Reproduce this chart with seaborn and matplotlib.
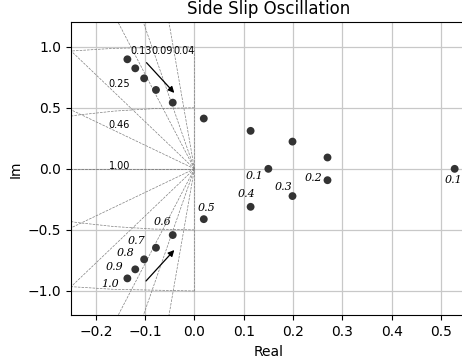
import numpy as np
import pandas as pd
import matplotlib
matplotlib.use("Agg")
import matplotlib.pyplot as plt
import seaborn as sns

# полюса замкнутой системы для коэффициентов 0.1 ... 1.0
gains = [0.1, 0.2, 0.3, 0.4, 0.5, 0.6, 0.7, 0.8, 0.9, 1.0]
branch_re = [0.150, 0.270, 0.199, 0.114, 0.019, -0.044, -0.078, -0.102, -0.120, -0.136]
branch_im = [0.000, 0.093, 0.223, 0.311, 0.412, 0.542, 0.646, 0.741, 0.823, 0.897]
extra_re = [0.528]   # второй вещественный полюс при k = 0.1
extra_im = [0.0]

# сетка коэффициентов демпфирования и собственных частот
zetas = [0.043, 0.086, 0.128, 0.251, 0.460, 1.0]
wn_list = [0.5, 1.0]

# стрелки направления роста коэффициента
arrow_start = [(-0.101, 0.886), (-0.102, -0.935)]
arrow_end = [(-0.037, 0.605), (-0.037, -0.648)]

rows = []
for k, re, im in zip(gains, branch_re, branch_im):
    rows.append((k, re, im))
    if im != 0:
        rows.append((k, re, -im))
for re, im in zip(extra_re, extra_im):
    rows.append((gains[0], re, im))
poles = pd.DataFrame(rows, columns=["k", "re", "im"])

fig = plt.figure(figsize=(4.62, 3.6), dpi=100)
ax = fig.add_axes([0.1541, 0.1239, 0.8535, 0.8142])
ax.set_xlim(-0.25, 0.55)
ax.set_ylim(-1.2, 1.2)
ax.grid(True, color="#c8c8c8", linewidth=0.9)
ax.set_axisbelow(True)

# sgrid: линии постоянного демпфирования
x_lab = -0.174
y_top = 1.0
y_lab = y_top * 0.94
for z in zetas:
    slope = -np.sqrt(1 - z**2) / z if z < 1 else -1e-16
    ax.plot([0, -0.3], [0, -0.3 * slope], color="gray", linestyle="dashed", linewidth=0.5)
    ax.plot([0, -0.3], [0, 0.3 * slope], color="gray", linestyle="dashed", linewidth=0.5)
    xt = y_top / slope
    yt = slope * x_lab
    if abs(xt) > abs(x_lab):
        xt = x_lab
    else:
        yt = y_lab
    ax.annotate("%.2f" % z, xy=(xt, yt), fontsize=7)
ax.plot([0, 0], [-y_top, y_top], color="gray", linestyle="dashed", linewidth=0.5)

ang = np.linspace(-90, 90, 20) * np.pi / 180
for w in wn_list:
    ax.plot(-np.cos(ang) * w, np.sin(ang) * w, color="gray", linestyle="dashed", linewidth=0.5)

sns.scatterplot(data=poles, x="re", y="im", color="#333333", s=32,
                edgecolor="none", ax=ax, zorder=3, legend=False)

# подписи коэффициентов (смещения в пикселях)
label_offsets = [(-14, -7), (-14, 2), (-9, 9), (-4, 13), (3, 11),
                 (-10, 13), (-19, 7), (-19, 6), (-21, 2), (-17, -6)]
for k, re, im, off in zip(gains, branch_re, branch_im, label_offsets):
    ax.annotate(f"{k:.1f}", xy=(re, -im), xytext=off, textcoords="offset pixels",
                ha="center", va="center", fontsize=8, family="DejaVu Serif",
                style="italic")
ax.annotate(f"{gains[0]:.1f}", xy=(extra_re[0], extra_im[0]), xytext=(-1, -11),
            textcoords="offset pixels", ha="center", va="center", fontsize=8,
            family="DejaVu Serif", style="italic")

for s, e in zip(arrow_start, arrow_end):
    ax.annotate("", xy=e, xytext=s,
                arrowprops=dict(arrowstyle="-|>", color="k", lw=0.9, mutation_scale=9))

ax.set_title("Side Slip Oscillation")
ax.set_xlabel("Real")
ax.set_ylabel("Im")

fig.savefig("out.png", dpi=100)
